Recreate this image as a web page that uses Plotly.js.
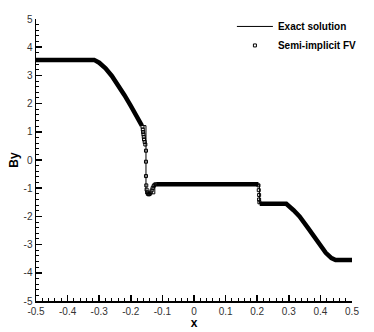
<!DOCTYPE html>
<html>
<head>
<meta charset="utf-8">
<script src="https://cdn.plot.ly/plotly-3.0.1.min.js"></script>
<style>
  body { margin: 0; background: #fff; }
  #chart { width: 374px; height: 332px; }
</style>
</head>
<body>
<div id="chart"></div>
<script>
// exact solution (thin line)
const exactX = [-0.5, -0.316, -0.30, -0.28, -0.26, -0.24, -0.22, -0.20, -0.18, -0.165, -0.152, -0.152, -0.124, -0.124, 0.207, 0.207, 0.292, 0.315, 0.334, 0.36, 0.386, 0.417, 0.435, 0.448, 0.5];
const exactY = [3.55, 3.55, 3.45, 3.25, 2.98, 2.66, 2.30, 1.92, 1.52, 1.22, 1.22, -1.2, -1.2, -0.86, -0.86, -1.55, -1.55, -1.78, -2.0, -2.4, -2.82, -3.29, -3.48, -3.55, -3.55];

// semi-implicit FV, smooth parts where the squares are packed into a thick band
const bandX = [-0.5, -0.316, -0.30, -0.28, -0.26, -0.24, -0.22, -0.20, -0.18, -0.165, null, -0.119, 0.204, null, 0.208, 0.292, 0.315, 0.334, 0.36, 0.386, 0.417, 0.435, 0.448, 0.5];
const bandY = [3.55, 3.55, 3.45, 3.25, 2.98, 2.66, 2.30, 1.92, 1.52, 1.22, null, -0.86, -0.86, null, -1.55, -1.55, -1.78, -2.0, -2.4, -2.82, -3.29, -3.48, -3.55, -3.55];

// semi-implicit FV, single squares across the jumps
const fvX = [-0.163, -0.162, -0.161, -0.160, -0.159, -0.158, -0.156, -0.154, -0.152, -0.152, -0.152, -0.151, -0.150, -0.148, -0.146, -0.143, -0.140, -0.137, -0.134, -0.131, -0.128, -0.125, -0.121, 0.204, 0.205, 0.206, 0.206, 0.207];
const fvY = [1.18, 1.08, 0.99, 0.91, 0.82, 0.73, 0.64, 0.55, 0.33, -0.06, -0.57, -0.90, -1.05, -1.15, -1.20, -1.22, -1.20, -1.15, -1.08, -1.00, -0.93, -0.88, -0.86, -0.90, -1.07, -1.24, -1.40, -1.50];

// tick labels
const xTicks = [-0.5, -0.4, -0.3, -0.2, -0.1, 0, 0.1, 0.2, 0.3, 0.4, 0.5];
const xTickText = ['-0.5', '-0.4', '-0.3', '-0.2', '-0.1', '0', '0.1', '0.2', '0.3', '0.4', '0.5'];
const yTicks = [-5, -4, -3, -2, -1, 0, 1, 2, 3, 4, 5];
const yTickText = ['-5', '-4', '-3', '-2', '-1', '0', '1', '2', '3', '4', '5'];

const font = 'Liberation Sans, Arial, Helvetica, sans-serif';

const traces = [{
    x: exactX, y: exactY,
    mode: 'lines',
    line: {color: '#000', width: 1},
    name: 'Exact solution'
}, {
    x: bandX, y: bandY,
    mode: 'lines',
    line: {color: '#000', width: 4.5},
    connectgaps: false,
    showlegend: false,
    hoverinfo: 'skip'
}, {
    x: fvX, y: fvY,
    mode: 'markers',
    marker: {symbol: 'square-open', size: 3, color: '#000', line: {width: 1, color: '#000'}},
    name: 'Semi-implicit FV'
}];

const layout = {
    width: 374, height: 332,
    margin: {l: 36, r: 17, t: 15, b: 31},
    paper_bgcolor: '#fff', plot_bgcolor: '#fff',
    font: {family: font, size: 10, color: '#222'},
    showlegend: true,
    legend: {
        x: 0.62, y: 1.025, xanchor: 'left', yanchor: 'top',
        bgcolor: 'rgba(0,0,0,0)',
        itemwidth: 36,
        font: {family: font, size: 10, color: '#000', weight: 'bold'},
        tracegroupgap: 0
    },
    xaxis: {
        range: [-0.5, 0.5],
        tickvals: xTicks, ticktext: xTickText,
        ticks: 'inside', ticklen: 6, tickwidth: 1.5, tickcolor: '#000',
        minor: {ticks: 'inside', ticklen: 3, tickwidth: 1, tickcolor: '#000', dtick: 0.02},
        showline: true, linecolor: '#000', linewidth: 1.5,
        showgrid: false, zeroline: false,
        tickfont: {size: 10, color: '#333'},
        title: {text: 'x', font: {size: 12, color: '#000', weight: 'bold'}, standoff: 2}
    },
    yaxis: {
        range: [-5, 5],
        tickvals: yTicks, ticktext: yTickText,
        ticks: 'inside', ticklen: 6, tickwidth: 1.5, tickcolor: '#000',
        minor: {ticks: 'inside', ticklen: 3, tickwidth: 1, tickcolor: '#000', dtick: 0.2},
        showline: true, linecolor: '#000', linewidth: 1.5,
        showgrid: false, zeroline: false,
        tickfont: {size: 10, color: '#333'},
        title: {text: 'By', font: {size: 12, color: '#000', weight: 'bold'}, standoff: 2}
    }
};

Plotly.newPlot('chart', traces, layout, {displayModeBar: false, staticPlot: true});
</script>
</body>
</html>
